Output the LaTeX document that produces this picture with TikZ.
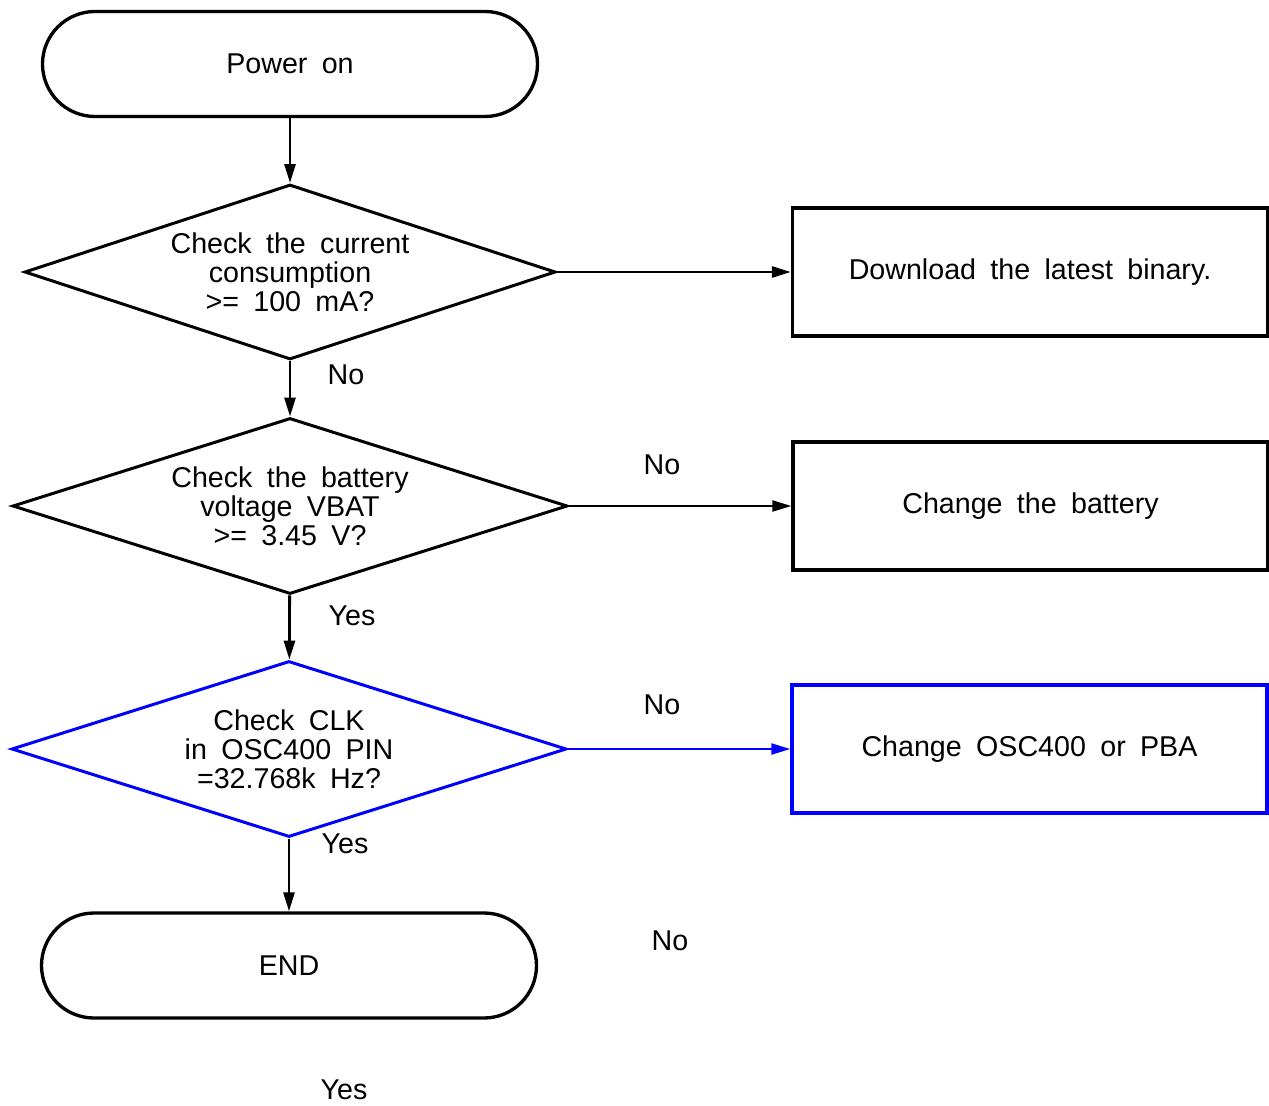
\documentclass[tikz,border=0pt]{standalone}
\usepackage{fontspec}
\setmainfont{Liberation Sans}[WordSpace=1.8]
\usetikzlibrary{shapes.geometric,arrows.meta}

\begin{document}
\begin{tikzpicture}[
   font=\fontsize{16.3}{16.4}\selectfont,
   terminal/.style ={rectangle, draw, line width=1.9pt, rounded corners=1.05cm,
                     minimum width=9.9cm, minimum height=2.1cm, inner sep=0pt},
   decision/.style ={diamond, draw, line width=1.7pt, aspect=3, inner sep=0pt,
                     align=center, minimum width=11.1cm, minimum height=3.52cm},
   action/.style   ={rectangle, draw, line width=1.9pt, minimum width=9.5cm,
                     minimum height=2.56cm, inner sep=0pt},
   answer/.style   ={inner sep=0pt},
   flow/.style     ={line width=1.6pt, -{Triangle[length=0.38cm,width=0.22cm]}}]
   \useasboundingbox (0,0) rectangle (25.38,-22.12);

   \node[terminal] (start) at (5.80,-1.28)  {Power on};
   \node[decision, minimum width=10.62cm, minimum height=3.5cm] (current) at (5.80,-5.44)
      {Check the current\\consumption\\>= 100 mA?};
   \node[decision] (battery) at (5.80,-10.12)
      {Check the battery\\voltage VBAT\\>= 3.45 V?};
   \node[decision, blue] (clock) at (5.78,-14.98)
      {\textcolor{black}{Check CLK}\\\textcolor{black}{in OSC400 PIN}\\\textcolor{black}{=32.768k Hz?}};
   \node[terminal] (stop) at (5.78,-19.31)  {END};

   \node[action] (binary)  at (20.60,-5.44)  {Download the latest binary.};
   \node[action] (newbat)  at (20.61,-10.12) {Change the battery};
   \node[action, blue] (newosc) at (20.59,-14.98) {\textcolor{black}{Change OSC400 or PBA}};

   \node[answer] (noA)  at (6.92,-7.50)  {No};
   \node[answer] (noB)  at (13.24,-9.30) {No};
   \node[answer] (yesC) at (7.04,-12.32) {Yes};
   \node[answer] (noD)  at (13.24,-14.10) {No};
   \node[answer] (yesE) at (6.90,-16.88) {Yes};
   \node[answer] (noF)  at (13.40,-18.82) {No};
   \node[answer] (yesG) at (6.88,-21.80) {Yes};

   \draw[flow] (start) to (current);
   \draw[flow] (current) to (battery);
   \draw[flow] (battery) to (clock);
   \draw[flow] (clock) to (stop);

   \draw[flow] (current.east) to (binary.west);
   \draw[flow, line width=1.2pt] (battery.east) to (newbat.west);
   \draw[flow, line width=1.2pt, blue] (clock.east) to (newosc.west);
 \end{tikzpicture}
\end{document}
